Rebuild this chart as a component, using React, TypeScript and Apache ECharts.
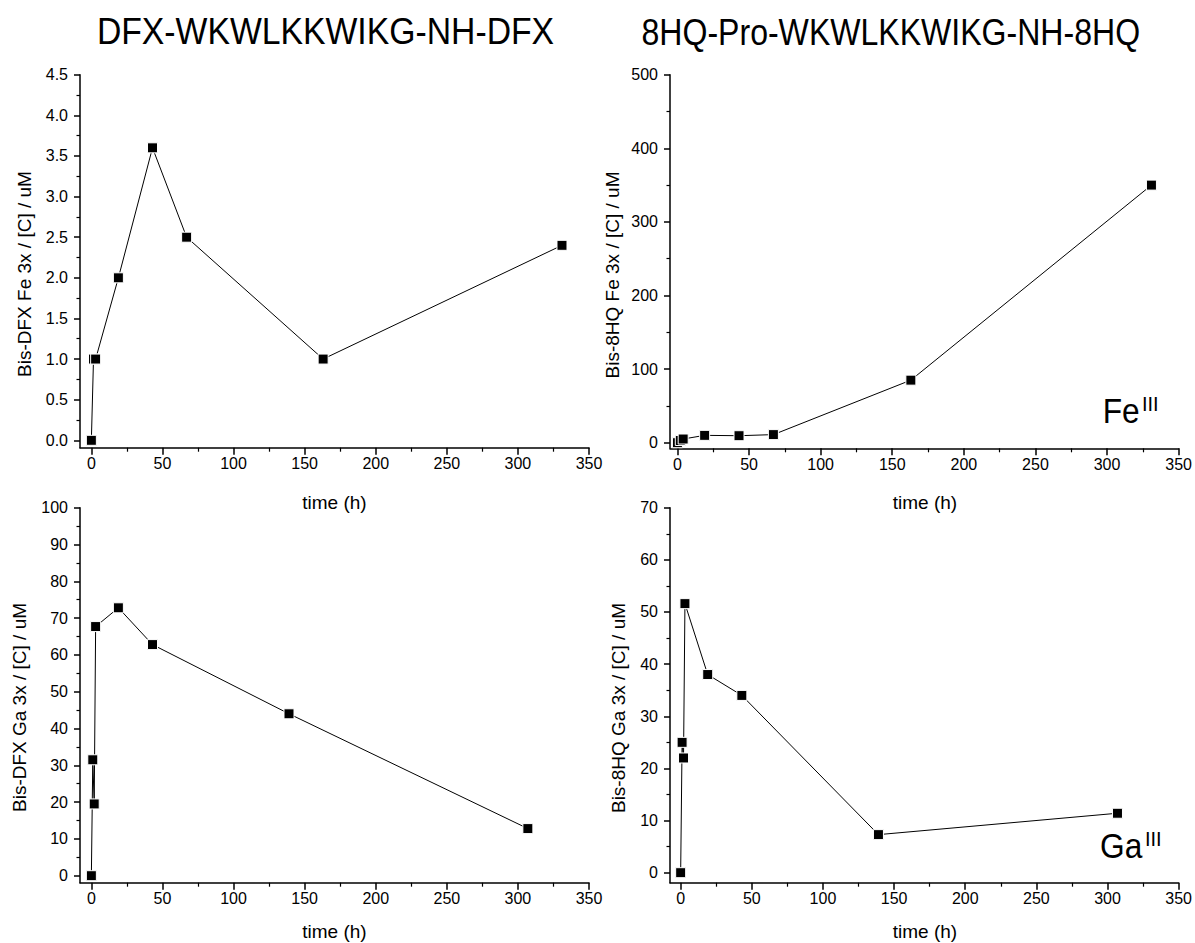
import React, { useEffect, useRef } from "react";
import * as echarts from "echarts";

// ---- data ----
const feDfxTime = [0, 1.5, 3, 19, 43, 67, 163, 331];
const feDfxVal = [0, 1.0, 1.0, 2.0, 3.6, 2.5, 1.0, 2.4];

const fe8hqTime = [0, 2, 4, 19, 43, 67, 163, 331];
const fe8hqVal = [0, 3, 5, 10, 9.5, 11, 85, 350];

const gaDfxTime = [0, 1, 2, 3, 19, 43, 139, 307];
const gaDfxVal = [0, 31.5, 19.5, 67.7, 72.8, 62.8, 44.0, 12.8];

const ga8hqTime = [0, 1, 2, 3, 19, 43, 139, 307];
const ga8hqVal = [0, 25, 22, 51.6, 38, 34, 7.3, 11.4];

// ---- tick labels ----
const xTicks = [0, 50, 100, 150, 200, 250, 300, 350];
const xMinorTicks = [25, 75, 125, 175, 225, 275, 325];
const feDfxTicks = [0, 0.5, 1.0, 1.5, 2.0, 2.5, 3.0, 3.5, 4.0, 4.5];
const feDfxMinor = [0.25, 0.75, 1.25, 1.75, 2.25, 2.75, 3.25, 3.75, 4.25];
const fe8hqTicks = [0, 100, 200, 300, 400, 500];
const fe8hqMinor = [50, 150, 250, 350, 450];
const gaDfxTicks = [0, 10, 20, 30, 40, 50, 60, 70, 80, 90, 100];
const gaDfxMinor = [5, 15, 25, 35, 45, 55, 65, 75, 85, 95];
const ga8hqTicks = [0, 10, 20, 30, 40, 50, 60, 70];
const ga8hqMinor = [5, 15, 25, 35, 45, 55, 65];

const titles = ["DFX-WKWLKKWIKG-NH-DFX", "8HQ-Pro-WKWLKKWIKG-NH-8HQ"];
const yTitles = [
  "Bis-DFX Fe 3x / [C] / uM",
  "Bis-8HQ Fe 3x / [C] / uM",
  "Bis-DFX Ga 3x / [C] / uM",
  "Bis-8HQ Ga 3x / [C] / uM",
];
const xTitle = "time (h)";

const FONT = "'Liberation Sans', Arial, Helvetica, sans-serif";

type Panel = {
  left: number;
  top: number;
  width: number;
  height: number;
  xMin: number;
  yMin: number;
  yMax: number;
  yTicks: number[];
  yMinor: number[];
  decimals: number;
  time: number[];
  val: number[];
};

const panels: Panel[] = [
  { left: 80, top: 74.7, width: 509, height: 373, xMin: -8, yMin: -0.091, yMax: 4.5, yTicks: feDfxTicks, yMinor: feDfxMinor, decimals: 1, time: feDfxTime, val: feDfxVal },
  { left: 670, top: 74.7, width: 509.7, height: 373.6, xMin: -5.2, yMin: -7.6, yMax: 500, yTicks: fe8hqTicks, yMinor: fe8hqMinor, decimals: 0, time: fe8hqTime, val: fe8hqVal },
  { left: 80, top: 507.7, width: 509, height: 375, xMin: -8, yMin: -1.9, yMax: 100, yTicks: gaDfxTicks, yMinor: gaDfxMinor, decimals: 0, time: gaDfxTime, val: gaDfxVal },
  { left: 670, top: 507.7, width: 509.7, height: 375, xMin: -7.5, yMin: -1.92, yMax: 70, yTicks: ga8hqTicks, yMinor: ga8hqMinor, decimals: 0, time: ga8hqTime, val: ga8hqVal },
];

const yTitlePos = [
  [24, 274],
  [612.5, 275],
  [19.5, 707.5],
  [618.7, 708],
];
const xTitlePos = [
  [334.5, 502],
  [925, 502],
  [334.5, 931],
  [925, 931],
];

function buildOption() {
  const grid: any[] = [];
  const xAxis: any[] = [];
  const yAxis: any[] = [];
  const series: any[] = [];
  const lineStyle = { color: "#000", width: 1.5 };

  panels.forEach((p, i) => {
    grid.push({ left: p.left, top: p.top, width: p.width, height: p.height, containLabel: false });
    xAxis.push({
      type: "value",
      gridIndex: i,
      min: p.xMin,
      max: 350,
      position: "bottom",
      axisLine: { show: true, onZero: false, lineStyle },
      axisTick: { show: true, inside: false, length: 7, customValues: xTicks, lineStyle },
      axisLabel: { show: true, customValues: xTicks, margin: 8, fontSize: 16, color: "#000", fontFamily: FONT },
      splitLine: { show: false },
    });
    xAxis.push({
      type: "value",
      gridIndex: i,
      min: p.xMin,
      max: 350,
      position: "bottom",
      axisLine: { show: false, onZero: false },
      axisTick: { show: true, inside: false, length: 4, customValues: xMinorTicks, lineStyle: { color: "#000", width: 1.2 } },
      axisLabel: { show: false },
      splitLine: { show: false },
    });
    yAxis.push({
      type: "value",
      gridIndex: i,
      min: p.yMin,
      max: p.yMax,
      position: "left",
      axisLine: { show: true, onZero: false, lineStyle },
      axisTick: { show: true, inside: false, length: 6, customValues: p.yTicks, lineStyle },
      axisLabel: {
        show: true,
        customValues: p.yTicks,
        margin: 12,
        fontSize: 16,
        color: "#000",
        fontFamily: FONT,
        formatter: (v: number) => v.toFixed(p.decimals),
      },
      splitLine: { show: false },
    });
    yAxis.push({
      type: "value",
      gridIndex: i,
      min: p.yMin,
      max: p.yMax,
      position: "left",
      axisLine: { show: false, onZero: false },
      axisTick: { show: true, inside: false, length: 3.5, customValues: p.yMinor, lineStyle: { color: "#000", width: 1.2 } },
      axisLabel: { show: false },
      splitLine: { show: false },
    });

    series.push({
      type: "line",
      xAxisIndex: 2 * i,
      yAxisIndex: 2 * i,
      data: p.time.map((t, k) => [t, p.val[k]]),
      symbol: "rect",
      symbolSize: 10,
      showSymbol: true,
      lineStyle: { color: "#000", width: 1 },
      itemStyle: { color: "#000", borderColor: "#fff", borderWidth: 1 },
      clip: false,
      z: 3,
    });
  });

  const graphic: any[] = [];
  graphic.push({
    type: "text",
    x: 325.5,
    y: 31.5,
    scaleX: 0.9,
    style: { text: titles[0], fontSize: 37.5, fontFamily: FONT, fill: "#000", align: "center", verticalAlign: "middle" },
  });
  graphic.push({
    type: "text",
    x: 890.8,
    y: 31.5,
    scaleX: 0.855,
    style: { text: titles[1], fontSize: 37.5, fontFamily: FONT, fill: "#000", align: "center", verticalAlign: "middle" },
  });
  yTitles.forEach((t, i) => {
    graphic.push({
      type: "text",
      x: yTitlePos[i][0],
      y: yTitlePos[i][1],
      rotation: Math.PI / 2,
      style: { text: t, fontSize: 19, fontFamily: FONT, fill: "#000", align: "center", verticalAlign: "middle" },
    });
  });
  xTitlePos.forEach((pos) => {
    graphic.push({
      type: "text",
      x: pos[0],
      y: pos[1],
      style: { text: xTitle, fontSize: 19, fontFamily: FONT, fill: "#000", align: "center", verticalAlign: "middle" },
    });
  });
  graphic.push({
    type: "text",
    x: 1102.7,
    y: 410,
    scaleX: 0.88,
    style: { text: "Fe", fontSize: 36, fontFamily: FONT, fill: "#000", align: "left", verticalAlign: "middle" },
  });
  graphic.push({
    type: "text",
    x: 1142,
    y: 404,
    style: { text: "III", fontSize: 20, fontFamily: FONT, fill: "#000", align: "left", verticalAlign: "middle" },
  });
  graphic.push({
    type: "text",
    x: 1100,
    y: 845,
    scaleX: 0.88,
    style: { text: "Ga", fontSize: 36, fontFamily: FONT, fill: "#000", align: "left", verticalAlign: "middle" },
  });
  graphic.push({
    type: "text",
    x: 1145,
    y: 839,
    style: { text: "III", fontSize: 20, fontFamily: FONT, fill: "#000", align: "left", verticalAlign: "middle" },
  });

  return {
    animation: false,
    backgroundColor: "#fff",
    grid,
    xAxis,
    yAxis,
    series,
    graphic,
  };
}

export default function App() {
  const ref = useRef<HTMLDivElement>(null);
  useEffect(() => {
    if (!ref.current) return;
    const chart = echarts.init(ref.current, undefined, { renderer: "svg" });
    chart.setOption(buildOption() as any);
    return () => chart.dispose();
  }, []);
  return (
    <div
      ref={ref}
      style={{ position: "absolute", left: 0, top: 0, width: 1195, height: 943, background: "#fff" }}
    />
  );
}
